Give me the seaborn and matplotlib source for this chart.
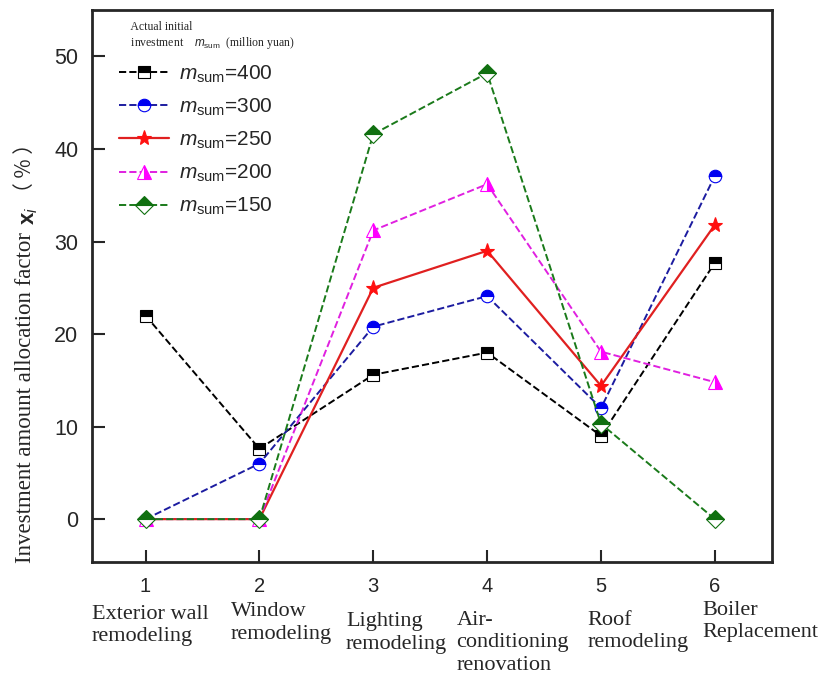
import numpy as np
import pandas as pd
import matplotlib
matplotlib.use("Agg")
import matplotlib.pyplot as plt
import seaborn as sns

# Data
projects = [1, 2, 3, 4, 5, 6]
project_names = ["Exterior wall\nremodeling", "Window\nremodeling", "Lighting\nremodeling",
                 "Air-\nconditioning\nrenovation", "Roof\nremodeling", "Boiler\nReplacement"]
m400 = [22.0, 7.6, 15.6, 18.0, 9.0, 27.7]
m300 = [0.0, 6.0, 20.8, 24.1, 12.0, 37.1]
m250 = [0.0, 0.0, 25.0, 29.0, 14.4, 31.8]
m200 = [0.0, 0.0, 31.2, 36.2, 18.1, 14.8]
m150 = [0.0, 0.0, 41.6, 48.2, 10.3, 0.0]
labels = ["400", "300", "250", "200", "150"]

# where each category name sits relative to its tick (x in data units, y in axes fraction)
name_dx = [-0.47, -0.25, -0.24, -0.27, -0.12, -0.11]
name_y = [-0.078, -0.074, -0.092, -0.089, -0.089, -0.071]

sns.set_style("ticks")
plt.rcParams["font.family"] = ["Liberation Sans", "DejaVu Sans"]
plt.rcParams["mathtext.fontset"] = "custom"
plt.rcParams["mathtext.rm"] = "Liberation Sans"
plt.rcParams["mathtext.it"] = "Liberation Sans:italic"
plt.rcParams["mathtext.bf"] = "Liberation Sans:bold"

fig, ax = plt.subplots(figsize=(8.29, 6.8), dpi=100)
fig.subplots_adjust(left=0.111, right=0.931, top=0.985, bottom=0.174)

# (values, line colour, marker face colour, linestyle, marker, fillstyle, size)
styles = [
    (m400, "black", "black", "--", "s", "top", 8),
    (m300, "#1c1ca0", "#0000f0", "--", "o", "top", 9),
    (m250, "#e02020", "#ff1010", "-", "*", "full", 11),
    (m200, "#e020e0", "#ff00ff", "--", "^", "right", 10),
    (m150, "#1a7a1a", "#107010", "--", "D", "top", 9),
]

for (vals, col, fc, ls, mk, fs, ms), lab in zip(styles, labels):
    df = pd.DataFrame({"project": projects, "value": vals})
    sns.lineplot(data=df, x="project", y="value", ax=ax, color=col, linestyle=ls,
                 linewidth=1.6 if ls == "-" else 1.4, marker=mk, fillstyle=fs,
                 markersize=ms, markerfacecolor=fc, markerfacecoloralt="white",
                 markeredgecolor=fc, markeredgewidth=0.8,
                 label=r"$m_{\rm sum}$=" + lab)

ax.set_xlim(0.53, 6.5)
ax.set_ylim(-4.6, 55)
ax.set_xticks(projects)
ax.set_xticklabels([str(p) for p in projects])
ax.set_yticks([0, 10, 20, 30, 40, 50])
ax.tick_params(axis="both", labelsize=15.5, width=1.5, length=9, direction="in")
ax.tick_params(axis="x", labelsize=14.5, pad=11)
ax.tick_params(axis="y", pad=10)
for s in ax.spines.values():
    s.set_linewidth(2)
    s.set_visible(True)

for p, name, dx, yy in zip(projects, project_names, name_dx, name_y):
    ax.text(p + dx, yy, name, transform=ax.get_xaxis_transform(), ha="left",
            va="top", fontsize=16, family=["Liberation Serif"], linespacing=1.25)

ax.set_xlabel("")
ylab = ax.set_ylabel("Investment amount allocation factor", fontsize=16.5,
                     family=["Liberation Serif"], labelpad=13)
ylab.set_y(0.297)
xi = ax.annotate(r"$\mathbf{x}_{\mathit{i}}$", xy=(0.5, 1), xycoords=ylab,
                 xytext=(3, 5), textcoords="offset points", rotation=90,
                 ha="center", va="bottom", fontsize=16)
ax.annotate("（ % ）", xy=(0.5, 1), xycoords=xi, xytext=(-3, 3),
            textcoords="offset points", rotation=90, ha="center", va="bottom",
            fontsize=15, family=["Noto Sans CJK SC", "Liberation Sans"])

leg = ax.legend(loc="upper left", bbox_to_anchor=(0.027, 0.995), frameon=False,
                fontsize=15, handlelength=2.4, handletextpad=0.5, labelspacing=0.57,
                borderaxespad=0,
                title="    Actual initial\n    investment    $m_{\\rm sum}$  (million yuan)",
                title_fontproperties={"family": "Liberation Serif", "size": 8.5},
                alignment="left")

fig.savefig("out.png", dpi=100)
